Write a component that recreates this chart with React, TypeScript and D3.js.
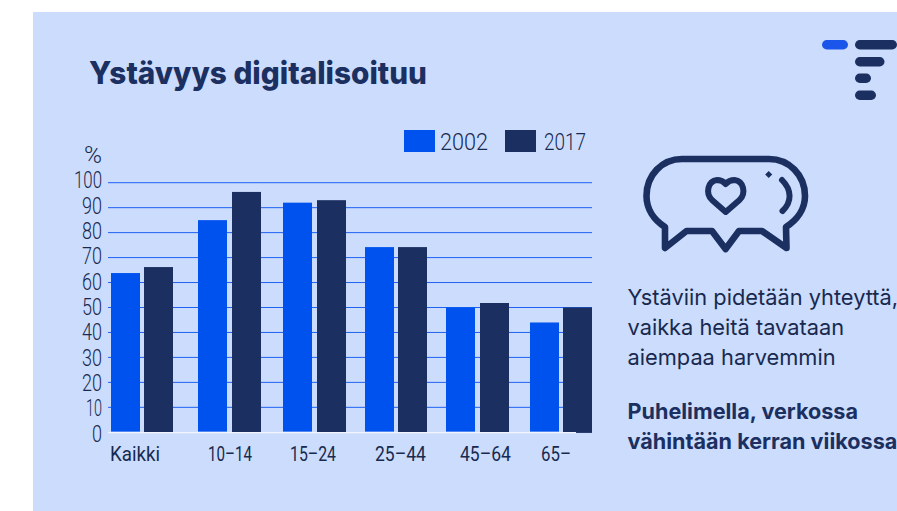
import React from "react";
import * as d3 from "d3";

const categories = ["Kaikki", "10–14", "15–24", "25–44", "45–64", "65–"];
const series2002 = [63.8, 85, 92, 74.2, 50, 44];
const series2017 = [66.2, 96.3, 93, 74.2, 51.8, 50];
const yTicks = d3.range(0, 101, 10);
const legendItems = ["2002", "2017"];
const bodyLines = ["Ystäviin pidetään yhteyttä,", "vaikka heitä tavataan", "aiempaa harvemmin"];
const boldLines = ["Puhelimella, verkossa", "vähintään kerran viikossa"];

const NAVY = "#1b2f60";
const BLUE = "#0052ee";
const BG = "#cbdcfd";
const INK = "#18294f";

export default function App() {
  const y = d3.scaleLinear().domain([0, 100]).range([432.3, 182.7]);
  const tickLabelY = d3.scaleLinear().domain([0, 100]).range([441.5, 188.3]);
  const groupX = d3.scaleOrdinal<string, number>().domain(categories).range([111, 198, 283, 365, 446, 530]);
  const secondOffset = d3.scaleOrdinal<string, number>().domain(categories).range([33, 34, 34, 33, 34, 33]);
  const labelX = d3.scaleOrdinal<string, number>().domain(categories).range([110, 208, 290, 375, 460, 541]);
  const labelW = d3.scaleOrdinal<string, number>().domain(categories).range([50, 44, 46, 51, 51, 30]);
  const tickW = (t: number) => (t === 100 ? 28 : t === 10 ? 16 : t === 0 ? 10 : 20);
  const barW = 29;
  const base = 432;
  return (
    <svg width={897} height={511} viewBox="0 0 897 511" style={{ position: "absolute", left: 0, top: 0, display: "block" }}>
      <rect x={33} y={12} width={864} height={499} fill={BG} />
      <text x={89} y={84} fontFamily="Inter" fontWeight={800} fontSize={31.5} fill={NAVY} textLength={338} lengthAdjust="spacingAndGlyphs">Ystävyys digitalisoituu</text>

      {/* logo */}
      <g>
        <rect x={822} y={40} width={26} height={9.5} rx={4.75} fill="#1a56ea" />
        <rect x={855} y={40} width={42} height={9.5} rx={4.75} fill={NAVY} />
        <rect x={855} y={57} width={29.5} height={9.5} rx={4.75} fill={NAVY} />
        <rect x={855} y={73.5} width={16} height={9.5} rx={4.75} fill={NAVY} />
        <rect x={855} y={90.5} width={21} height={9.5} rx={4.75} fill={NAVY} />
      </g>

      {/* grid */}
      {yTicks.filter(t => t > 0).map(t => (
        <line key={t} x1={108} x2={592} y1={y(t)} y2={y(t)} stroke="#1f62f2" strokeWidth={1} />
      ))}
      <line x1={108} x2={576} y1={432.6} y2={432.6} stroke="#f2f5ff" strokeWidth={1.3} />

      {/* bars */}
      {categories.map((c, i) => (
        <g key={c}>
          <rect x={groupX(c)} y={y(series2002[i])} width={barW} height={base - 0.4 - y(series2002[i])} fill={BLUE} />
          <rect x={groupX(c) + secondOffset(c)} y={y(series2017[i])} width={barW} height={base - y(series2017[i])} fill={NAVY} />
        </g>
      ))}
      <rect x={576} y={431} width={16} height={1.9} fill={NAVY} />

      {/* y axis labels */}
      {yTicks.map(t => (
        <text key={t} x={102} y={tickLabelY(t)} textAnchor="end" textLength={tickW(t)} lengthAdjust="spacingAndGlyphs" fontFamily="Roboto" fontWeight={300} fontSize={24.5} fill={INK}>{t}</text>
      ))}
      <text x={102} y={163} textAnchor="end" textLength={18} lengthAdjust="spacingAndGlyphs" fontFamily="Roboto" fontWeight={300} fontSize={24} fill={INK}>%</text>

      {/* category labels */}
      {categories.map(c => (
        <text key={c} x={labelX(c)} y={461} textLength={labelW(c)} lengthAdjust="spacingAndGlyphs" fontFamily="Roboto" fontWeight={400} fontSize={20.5} fill={INK}>{c}</text>
      ))}

      {/* legend */}
      {legendItems.map((l, i) => (
        <g key={l}>
          <rect x={i === 0 ? 404 : 505} y={130} width={31} height={22} fill={i === 0 ? BLUE : NAVY} />
          <text x={i === 0 ? 440 : 544} y={150} textLength={i === 0 ? 48 : 42} lengthAdjust="spacingAndGlyphs" fontFamily="Roboto" fontWeight={300} fontSize={24} fill={INK}>{l}</text>
        </g>
      ))}

      {/* icon */}
      <g fill="none" stroke={NAVY} strokeWidth={6.6} strokeLinejoin="round" strokeLinecap="round">
        <path d="M682 159 L769 159 C789 159 805 175 805 196 C805 209 797 220 786 227 L786.5 248 L762 231 L739 231 L725.6 249 L712 231 L686.5 231 L665 248 L665 227 C654 220 646.5 209 646.5 196 C646.5 175 662 159 682 159 Z" />
        <path d="M725.7 212 L712 200 C705 193 708 181 717 180 C721 180 724 182 725.7 184 C727.4 182 730.4 180 734.5 180 C743.5 181 746.5 193 739.5 200 Z" strokeWidth={6} />
        <path d="M782 180 C792 190 792 202 782.5 211" strokeWidth={6} />
      </g>
      <rect x={766.3} y={171.9} width={5} height={5} fill={NAVY} transform="rotate(45 768.7 174.3)" />

      {/* side text */}
      {bodyLines.map((l, i) => (
        <text key={l} x={627.5} y={305 + i * 30} fontFamily="Inter" fontSize={21.8} fontWeight={400} fill={INK}>{l}</text>
      ))}
      {boldLines.map((l, i) => (
        <text key={l} x={627.5} y={419 + i * 30} fontFamily="Inter" fontSize={21.6} fontWeight={700} fill={NAVY}>{l}</text>
      ))}
    </svg>
  );
}
